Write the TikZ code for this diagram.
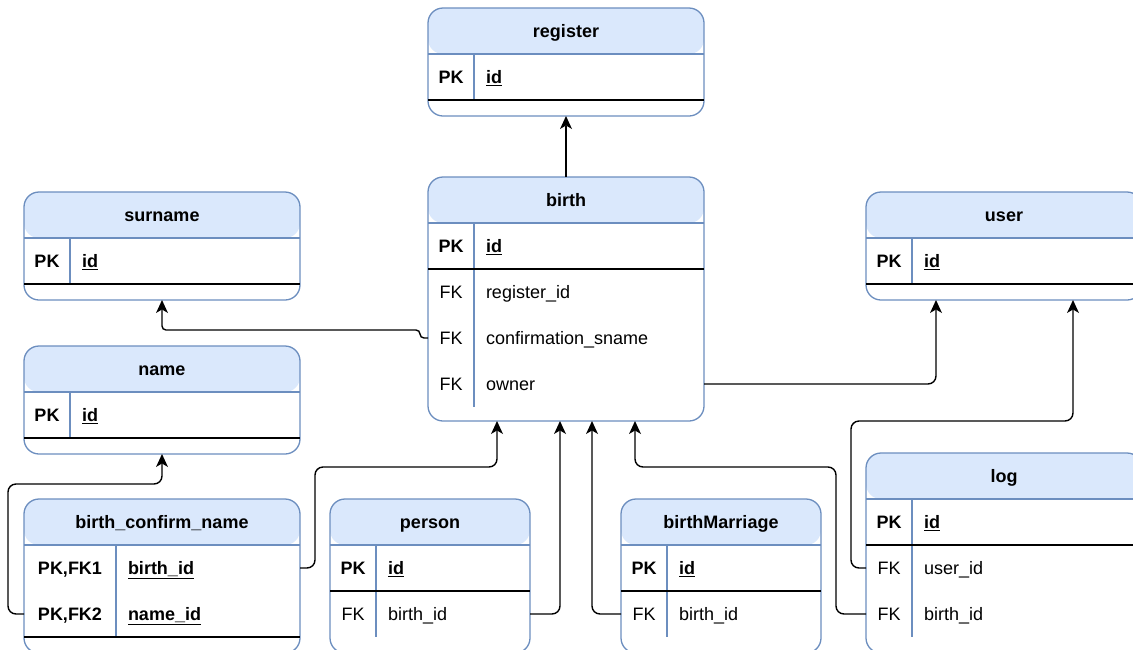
\documentclass[tikz,border=0pt]{standalone}
\usepackage{fontspec}
\setmainfont{Liberation Sans}
\usetikzlibrary{arrows.meta}

\definecolor{hdrfill}{HTML}{DAE8FC}
\definecolor{hdrline}{HTML}{6C8EBF}

\newcommand\erfont{\fontsize{18}{21}\selectfont}

\tikzset{
  tbl/.style={draw=hdrline, line width=1.3pt, fill=white, rounded corners=15pt,
    inner sep=0pt, outer sep=0pt,
    path picture={\fill[hdrfill] (path picture bounding box.north west)
      rectangle ([yshift=-46pt]path picture bounding box.north east);}},
  rowbox/.style={inner sep=0pt, outer sep=0pt, minimum height=46pt},
  txt/.style={inner sep=0pt, outer sep=0pt, text height=12.9pt, text depth=0pt,
    font=\erfont},
  hd/.style={txt, font=\erfont\bfseries},
  pkkey/.style={txt, font=\erfont\bfseries},
  pkfield/.style={txt, anchor=west, font=\erfont\bfseries},
  fkkey/.style={txt},
  fkfield/.style={txt, anchor=west},
  sepline/.style={draw=hdrline, line width=1.3pt},
  keyline/.style={draw=black, line width=1.3pt},
  tip/.tip={Stealth[length=13pt, width=12pt, inset=3.5pt, line width=0pt]},
  conn/.style={draw=black, line width=1.4pt, rounded corners=8pt, arrows={-tip}}
}

% table frame: name, left, top, width, height, title
\newcommand\ertbl[6]{%
  \node[tbl, minimum width=#4pt, minimum height=#5pt] (#1) at ({#2+#4/2},{#3+#5/2}) {};
  \node[hd] (#1-title) at ({#2+#4/2},{#3+23}) {#6};
  \draw[sepline] (#2,{#3+46}) -- ({#2+#4},{#3+46});
}
% table row: name, left, width, y centre, key column width, pk/fk, key, field
\newcommand\errow[8]{%
  \node[rowbox, minimum width=#3pt] (#1) at ({#2+#3/2},#4) {};
  \node[#6key] (#1-key) at ({#2+#5/2},#4) {#7};
  \node[#6field] (#1-field) at ({#2+#5+12},#4) {#8};
}

\begin{document}
\begin{tikzpicture}[x=1pt, y=-1pt]
\useasboundingbox (0,0) rectangle (1133,649);
\clip (0,0) rectangle (1133,649);

% register
\ertbl{register}{428}{8}{276}{108}{register}
\errow{register-id}{428}{276}{77}{46}{pk}{PK}{\underline{id}}
\draw[sepline] (474,54) -- (474,100);
\draw[keyline] (428,100) -- (704,100);

% birth
\ertbl{birth}{428}{177}{276}{244}{birth}
\errow{birth-id}{428}{276}{246}{46}{pk}{PK}{\underline{id}}
\errow{birth-regid}{428}{276}{292}{46}{fk}{FK}{register\_id}
\errow{birth-csname}{428}{276}{338}{46}{fk}{FK}{confirmation\_sname}
\errow{birth-owner}{428}{276}{384}{46}{fk}{FK}{owner}
\draw[sepline] (474,223) -- (474,407);
\draw[keyline] (428,269) -- (704,269);

% surname
\ertbl{surname}{24}{192}{276}{108}{surname}
\errow{surname-id}{24}{276}{261}{46}{pk}{PK}{\underline{id}}
\draw[sepline] (70,238) -- (70,284);
\draw[keyline] (24,284) -- (300,284);

% name
\ertbl{name}{24}{346}{276}{108}{name}
\errow{name-id}{24}{276}{415}{46}{pk}{PK}{\underline{id}}
\draw[sepline] (70,392) -- (70,438);
\draw[keyline] (24,438) -- (300,438);

% user
\ertbl{user}{866}{192}{276}{108}{user}
\errow{user-id}{866}{276}{261}{46}{pk}{PK}{\underline{id}}
\draw[sepline] (912,238) -- (912,284);
\draw[keyline] (866,284) -- (1142,284);

% birth_confirm_name
\ertbl{bcn}{24}{499}{276}{154}{birth\_confirm\_name}
\errow{bcn-birth}{24}{276}{568}{92}{pk}{PK,FK1}{\underline{birth\_id}}
\errow{bcn-name}{24}{276}{614}{92}{pk}{PK,FK2}{\underline{name\_id}}
\draw[sepline] (116,545) -- (116,637);
\draw[keyline] (24,637) -- (300,637);

% person
\ertbl{person}{330}{499}{200}{154}{person}
\errow{person-id}{330}{200}{568}{46}{pk}{PK}{\underline{id}}
\errow{person-birth}{330}{200}{614}{46}{fk}{FK}{birth\_id}
\draw[sepline] (376,545) -- (376,637);
\draw[keyline] (330,591) -- (530,591);

% birthMarriage
\ertbl{bm}{621}{499}{200}{154}{birthMarriage}
\errow{bm-id}{621}{200}{568}{46}{pk}{PK}{\underline{id}}
\errow{bm-birth}{621}{200}{614}{46}{fk}{FK}{birth\_id}
\draw[sepline] (667,545) -- (667,637);
\draw[keyline] (621,591) -- (821,591);

% log
\ertbl{log}{866}{453}{276}{200}{log}
\errow{log-id}{866}{276}{522}{46}{pk}{PK}{\underline{id}}
\errow{log-user}{866}{276}{568}{46}{fk}{FK}{user\_id}
\errow{log-birth}{866}{276}{614}{46}{fk}{FK}{birth\_id}
\draw[sepline] (912,499) -- (912,637);
\draw[keyline] (866,545) -- (1142,545);

% relationships
\draw[conn] (birth.north) -- (register.south);
\draw[conn, rounded corners=4pt] (birth-csname.west) -- ++(-8,0) |- ([yshift=-30pt]surname.south) -- (surname.south);
\draw[conn] (birth-owner.east) -| ([xshift=70pt]user.south west);
\draw[conn] (log-user.west) -- ++(-15,0) |- ([xshift=207pt,yshift=-121pt]user.south west) -- ([xshift=207pt]user.south west);
\draw[conn] (log-birth.west) -- ++(-30,0) |- ([xshift=207pt,yshift=-46pt]birth.south west) -- ([xshift=207pt]birth.south west);
\draw[conn] (bm-birth.west) -| ([xshift=164pt]birth.south west);
\draw[conn] (person-birth.east) -| ([xshift=132pt]birth.south west);
\draw[conn] (bcn-birth.east) -- ++(15,0) |- ([xshift=69pt,yshift=-46pt]birth.south west) -- ([xshift=69pt]birth.south west);
\draw[conn] (bcn-name.west) -- ++(-16,0) |- ([yshift=-30pt]name.south) -- (name.south);
\end{tikzpicture}
\end{document}
